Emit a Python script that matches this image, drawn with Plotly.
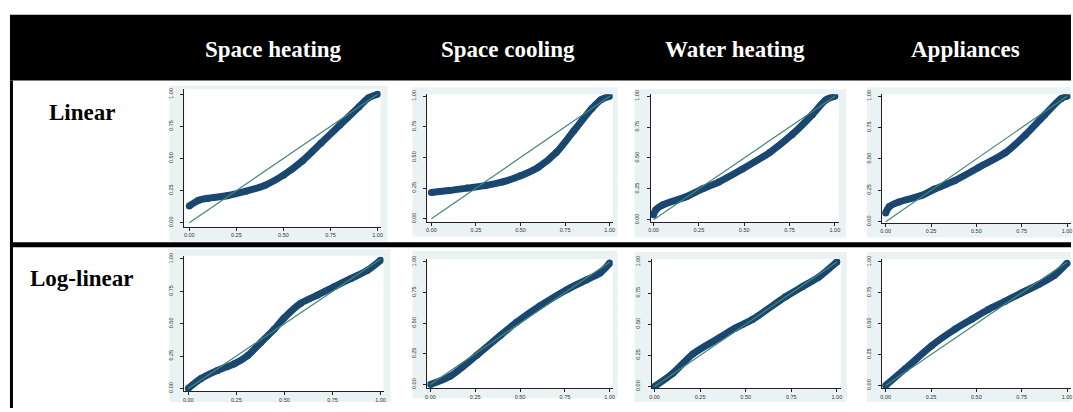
import plotly.graph_objects as go

W, H = 1073, 412

columns = ["Space heating", "Space cooling", "Water heating", "Appliances"]
rows = ["Linear", "Log-linear"]
tick_vals = [0, 0.25, 0.5, 0.75, 1.0]
tick_text = ["0.00", "0.25", "0.50", "0.75", "1.00"]
diag_x = [0, 1]
diag_y = [0, 1]

# Linear model P-P curves (empirical vs. fitted probability)
sh_lin_x = [0, 0.05, 0.1, 0.2, 0.3, 0.4, 0.5, 0.6, 0.7, 0.8, 0.9, 0.95, 1.0]
sh_lin_y = [0.13, 0.175, 0.19, 0.21, 0.245, 0.29, 0.37, 0.48, 0.62, 0.76, 0.90, 0.97, 1.0]
sc_lin_x = [0, 0.1, 0.2, 0.3, 0.4, 0.5, 0.6, 0.7, 0.8, 0.9, 0.95, 1.0]
sc_lin_y = [0.215, 0.23, 0.25, 0.27, 0.30, 0.35, 0.42, 0.54, 0.72, 0.90, 0.97, 1.0]
wh_lin_x = [0, 0.013, 0.05, 0.18, 0.27, 0.36, 0.49, 0.64, 0.765, 0.875, 0.95, 1.0]
wh_lin_y = [0.04, 0.08, 0.12, 0.186, 0.25, 0.305, 0.41, 0.544, 0.69, 0.85, 0.97, 1.0]
ap_lin_x = [0, 0.02, 0.073, 0.2, 0.27, 0.38, 0.51, 0.66, 0.77, 0.876, 0.967, 1.0]
ap_lin_y = [0.07, 0.12, 0.157, 0.21, 0.26, 0.327, 0.43, 0.55, 0.69, 0.85, 0.98, 1.0]

# Log-linear model P-P curves
sh_log_x = [0, 0.066, 0.152, 0.239, 0.308, 0.377, 0.446, 0.498, 0.585, 0.671, 0.758, 0.844, 0.93, 1.0]
sh_log_y = [0, 0.076, 0.139, 0.19, 0.253, 0.354, 0.456, 0.544, 0.658, 0.72, 0.785, 0.848, 0.91, 0.99]
sc_log_x = [0, 0.11, 0.26, 0.39, 0.48, 0.61, 0.76, 0.87, 0.944, 1.0]
sc_log_y = [0, 0.067, 0.24, 0.40, 0.507, 0.64, 0.773, 0.853, 0.907, 0.99]
wh_log_x = [0, 0.1, 0.21, 0.355, 0.445, 0.536, 0.718, 0.81, 0.9, 1.0]
wh_log_y = [0, 0.105, 0.26, 0.39, 0.47, 0.537, 0.72, 0.8, 0.877, 1.0]
ap_log_x = [0, 0.11, 0.255, 0.383, 0.474, 0.566, 0.657, 0.748, 0.84, 0.93, 1.0]
ap_log_y = [0, 0.138, 0.324, 0.456, 0.536, 0.615, 0.68, 0.748, 0.814, 0.89, 0.99]

series = [
    (sh_lin_x, sh_lin_y), (sc_lin_x, sc_lin_y), (wh_lin_x, wh_lin_y), (ap_lin_x, ap_lin_y),
    (sh_log_x, sh_log_y), (sc_log_x, sc_log_y), (wh_log_x, wh_log_y), (ap_log_x, ap_log_y),
]

# panel geometry in pixels: background box, plot box, pixel of data 0/1 on x and y
geom = [
    ((168, 83, 387, 242), (183, 87, 380, 227), (188, 377, 223, 92)),
    ((412, 85, 618, 237), (427, 92, 613, 222), (431, 610, 219, 94)),
    ((635, 87, 847, 238), (651, 92, 840, 222), (654, 836, 220, 94)),
    ((868, 85, 1073, 238), (883, 92, 1073, 223), (887, 1069, 222, 94)),
    ((168, 250, 390, 406), (183, 257, 383, 395), (187, 380, 392, 260)),
    ((412, 252, 618, 402), (427, 260, 613, 392), (430, 610, 388, 263)),
    ((635, 253, 848, 406), (652, 260, 842, 392), (655, 838, 390, 263)),
    ((868, 253, 1073, 406), (883, 260, 1073, 392), (887, 1069, 389, 263)),
]

CURVE = "#1a476f"
DIAG = "#44887a"
PANEL_BG = "#eaf2f3"


def px(p):
    return p / W


def py(p):
    return 1 - p / H


fig = go.Figure()
shapes = []
layout = {}

for i, ((xs, ys), (bg, box, dpx)) in enumerate(zip(series, geom)):
    n = i + 1
    xa = "x" if n == 1 else f"x{n}"
    ya = "y" if n == 1 else f"y{n}"
    xkey = "xaxis" if n == 1 else f"xaxis{n}"
    ykey = "yaxis" if n == 1 else f"yaxis{n}"
    l, t, r, b = box
    x0, x1, y0, y1 = dpx
    xr = [(l - x0) / (x1 - x0), (r - x0) / (x1 - x0)]
    yr = [(y0 - b) / (y0 - y1), (y0 - t) / (y0 - y1)]
    common = dict(
        showgrid=False, zeroline=False, showline=True, linecolor="#222", linewidth=1,
        ticks="outside", ticklen=3, tickwidth=1, tickcolor="#222",
        tickvals=tick_vals, ticktext=tick_text,
        tickfont=dict(family="Liberation Sans", size=5.5, color="#333"),
        fixedrange=True,
    )
    layout[xkey] = dict(domain=[px(l), px(r)], range=xr, anchor=ya, **common)
    layout[ykey] = dict(domain=[py(b), py(t)], range=yr, anchor=xa, tickangle=-90,
                        ticklabelstandoff=5, **common)
    bl, bt, br, bb = bg
    shapes.append(dict(type="rect", xref="paper", yref="paper", x0=px(bl), x1=px(br),
                       y0=py(bb), y1=py(bt), fillcolor=PANEL_BG, line=dict(width=0), layer="below"))
    shapes.append(dict(type="rect", xref="paper", yref="paper", x0=px(l), x1=px(r),
                       y0=py(b), y1=py(t), fillcolor="white", line=dict(width=0), layer="below"))
    fig.add_trace(go.Scatter(x=xs, y=ys, xaxis=xa, yaxis=ya, mode="lines+markers",
                             line=dict(color=CURVE, width=7, shape="spline", smoothing=0.8),
                             marker=dict(color=CURVE, size=7), hoverinfo="skip", showlegend=False))
    fig.add_trace(go.Scatter(x=diag_x, y=diag_y, xaxis=xa, yaxis=ya, mode="lines",
                             line=dict(color=DIAG, width=1.2), hoverinfo="skip", showlegend=False))

# table frame: header bar, row separator, left border
shapes.append(dict(type="rect", xref="paper", yref="paper", x0=px(8), x1=px(1073),
                   y0=py(78), y1=py(11), fillcolor="black", line=dict(width=0), layer="below"))
shapes.append(dict(type="rect", xref="paper", yref="paper", x0=px(8), x1=px(1073),
                   y0=py(248), y1=py(243), fillcolor="black", line=dict(width=0), layer="above"))
shapes.append(dict(type="rect", xref="paper", yref="paper", x0=px(8), x1=px(11),
                   y0=py(412), y1=py(78), fillcolor="black", line=dict(width=0), layer="above"))

annotations = []
col_centers = [273, 508, 736, 967]
for name, cx in zip(columns, col_centers):
    annotations.append(dict(text=f"<b>{name}</b>", x=px(cx), y=py(46), xref="paper", yref="paper",
                            showarrow=False, xanchor="center", yanchor="middle",
                            font=dict(family="Liberation Serif", size=23, color="white")))
row_centers = [111, 280]
for name, cy in zip(rows, row_centers):
    annotations.append(dict(text=f"<b>{name}</b>", x=px(80), y=py(cy), xref="paper", yref="paper",
                            showarrow=False, xanchor="center", yanchor="middle",
                            font=dict(family="Liberation Serif", size=23, color="black")))

fig.update_layout(
    width=W, height=H, autosize=False,
    margin=dict(l=0, r=0, t=0, b=0),
    paper_bgcolor="white", plot_bgcolor="white",
    shapes=shapes, annotations=annotations, showlegend=False,
    **layout,
)

fig.write_html("out.html", config={"displayModeBar": False},
               post_script="document.body.style.margin='0';document.body.style.padding='0';")
